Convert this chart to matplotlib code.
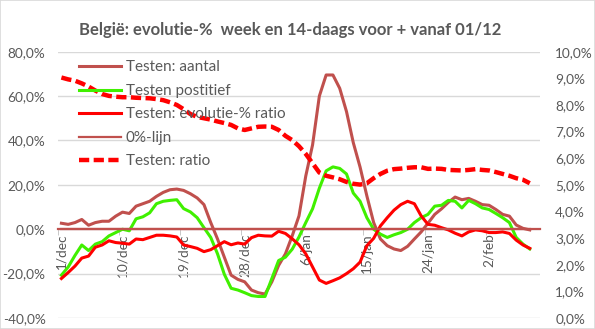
import matplotlib.pyplot as plt
import matplotlib.ticker as mtick
from matplotlib.patches import Rectangle

plt.rcParams['font.family'] = ['Lato', 'DejaVu Sans']

# dagen 1/dec .. 9/feb op de categorie-as, meetwaarden t/m 8/feb
n_cat = 71
tick_pos = [0, 9, 18, 27, 36, 45, 54, 63]
tick_labels = ['1/dec', '10/dec', '19/dec', '28/dec', '6/jan', '15/jan', '24/jan', '2/feb']

aantal = [2.7, 2.2, 3.0, 4.4, 1.8, 3.0, 3.6, 3.6, 5.9, 7.7,
          7.1, 10.4, 11.5, 12.6, 14.8, 16.6, 17.8, 18.1, 17.5, 16.0,
          14.1, 11.1, 3.0, -4.4, -12.6, -20.7, -22.6, -23.7, -27.4, -28.6,
          -29.2, -23.7, -16.3, -11.1, -3.0, 6.0, 24.0, 38.0, 60.0, 69.5,
          69.5, 63.5, 53.0, 39.0, 28.0, 15.0, 3.0, -4.4, -7.4, -8.9,
          -9.6, -7.7, -4.4, -1.2, 2.7, 6.7, 9.2, 12.1, 14.5, 13.3,
          13.9, 12.6, 11.1, 10.8, 8.9, 6.7, 5.9, 1.9, 0.4, -0.3]

positief = [-20.7, -17.0, -11.8, -7.1, -9.6, -6.7, -5.6, -3.0, -1.5, 0.0,
            -0.7, 4.7, 5.6, 7.4, 11.5, 12.6, 13.0, 13.3, 9.3, 7.8,
            5.2, 0.7, -3.7, -11.1, -20.3, -26.6, -27.4, -28.6, -29.9, -30.3,
            -30.3, -22.2, -14.1, -12.6, -9.0, -3.5, 3.0, 9.2, 18.5, 26.3,
            28.1, 27.4, 24.9, 16.3, 12.6, 5.2, 0.0, -2.2, -3.7, -2.5,
            -1.5, 0.0, 3.0, 5.2, 6.7, 10.4, 10.8, 13.0, 12.6, 9.6,
            13.0, 11.5, 9.6, 8.9, 7.1, 5.2, 3.0, -3.7, -6.7, -8.9]

evolutie_ratio = [-22.2, -19.5, -16.6, -13.0, -12.1, -8.1, -7.1, -5.2, -6.0, -6.3,
                  -6.7, -4.4, -4.7, -3.7, -2.7, -2.7, -3.0, -3.5, -7.1, -7.8,
                  -8.6, -10.1, -9.2, -7.4, -5.6, -7.0, -6.2, -6.7, -3.8, -2.7,
                  -3.0, -3.1, -0.9, -1.9, -4.3, -7.0, -11.1, -17.0, -22.9, -24.4,
                  -23.2, -21.9, -20.0, -17.8, -14.8, -7.4, -4.1, 1.5, 5.2, 8.6,
                  11.1, 12.6, 11.5, 6.0, 2.2, 1.8, 0.7, -0.3, -1.8, -3.0,
                  -1.2, -0.3, -0.7, -1.5, -1.5, -1.2, -1.9, -4.9, -7.1, -8.6]

nul_lijn = [0.0] * 70

ratio = [9.03, 8.96, 8.91, 8.81, 8.69, 8.54, 8.41, 8.34, 8.31, 8.29,
         8.29, 8.27, 8.26, 8.25, 8.22, 8.18, 8.10, 8.00, 7.84, 7.66,
         7.55, 7.50, 7.45, 7.38, 7.32, 7.25, 7.12, 7.06, 7.12, 7.18,
         7.19, 7.18, 7.06, 6.84, 6.68, 6.45, 6.16, 5.81, 5.46, 5.34,
         5.28, 5.21, 5.11, 5.04, 5.01, 5.06, 5.25, 5.41, 5.53, 5.59,
         5.61, 5.64, 5.66, 5.66, 5.60, 5.61, 5.60, 5.56, 5.55, 5.54,
         5.56, 5.59, 5.56, 5.54, 5.48, 5.41, 5.34, 5.25, 5.19, 5.06]

x = list(range(len(aantal)))

GRAY = '#595959'
BROWN = '#C0504D'
GREEN = '#40F000'
RED = '#FF0000'

fig = plt.figure(figsize=(5.95, 3.29), dpi=100)
fig.patches.append(Rectangle((0, 0), 1, 1, transform=fig.transFigure,
                             fill=False, edgecolor='#D9D9D9', linewidth=1.2))

ax = fig.add_axes([0.0975, 0.0334, 0.810, 0.8095])
ax2 = ax.twinx()

l1, = ax.plot(x, aantal, color=BROWN, lw=2.2, label='Testen: aantal')
l2, = ax.plot(x, positief, color=GREEN, lw=2.2, label='Testen postitief')
l3, = ax.plot(x, evolutie_ratio, color=RED, lw=2.2, label='Testen: evolutie-% ratio')
l4, = ax.plot(x, nul_lijn, color=BROWN, lw=1.6, label='0%-lijn')
l5, = ax2.plot(x, ratio, color=RED, lw=3.2, dashes=(2.3, 1.0), label='Testen: ratio')

pct = mtick.FuncFormatter(lambda v, p: f'{v:.1f}%'.replace('.', ','))

ax.set_xlim(-0.5, n_cat - 0.5)
ax.set_ylim(-40, 80)
ax.set_yticks(range(-40, 81, 20))
ax.yaxis.set_major_formatter(pct)
ax.grid(axis='y', color='#D9D9D9', lw=1)
ax.set_axisbelow(True)

ax2.set_ylim(0, 10)
ax2.set_yticks(range(0, 11))
ax2.yaxis.set_major_formatter(pct)

for a in (ax, ax2):
    for s in ('left', 'right', 'top'):
        a.spines[s].set_visible(False)
ax2.spines['bottom'].set_visible(False)

# categorie-as kruist de linker as op 0%, over de volle breedte
ax.spines['bottom'].set_position(('data', 0))
ax.spines['bottom'].set_color(BROWN)
ax.spines['bottom'].set_linewidth(1.6)
ax.set_xticks(tick_pos)
ax.set_xticklabels(tick_labels, rotation=90, va='top', ha='center')
ax.set_xticks([p - 0.5 for p in tick_pos], minor=True)
ax.tick_params(axis='x', which='major', length=0, pad=3, labelsize=9.8, labelcolor=GRAY)
ax.tick_params(axis='x', which='minor', length=4, color='#BFBFBF')
ax.tick_params(axis='y', length=0, pad=9, labelsize=9.8, labelcolor=GRAY)
ax2.tick_params(axis='y', length=0, pad=11, labelsize=9.8, labelcolor=GRAY)

ax2.legend(handles=[l1, l2, l3, l4, l5], loc='upper left',
           bbox_to_anchor=(0.03, 0.99), frameon=False, fontsize=11,
           handlelength=2.8, handletextpad=0.3, labelspacing=0.62,
           labelcolor=GRAY, borderaxespad=0)

fig.text(0.487, 0.908, 'België: evolutie-%  week en 14-daags voor + vanaf 01/12',
         ha='center', va='center', fontsize=12, fontweight='bold', color=GRAY)

fig.savefig('out.png', dpi=100)
